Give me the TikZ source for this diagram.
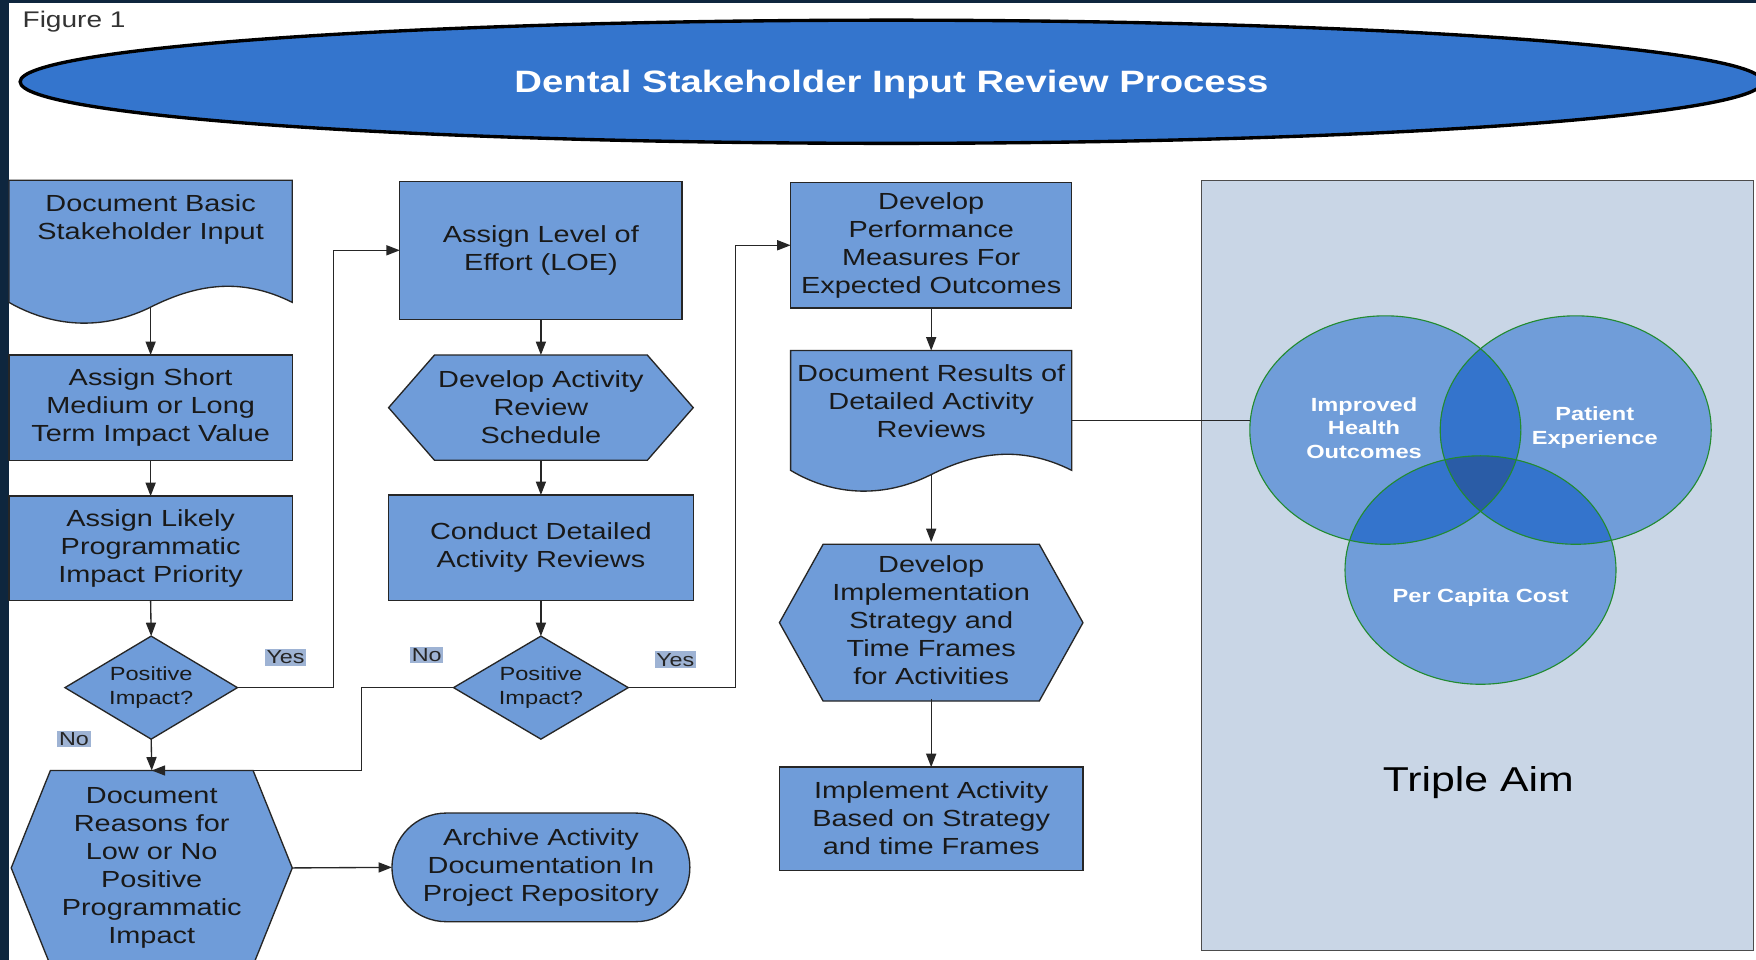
\documentclass[tikz,border=0pt]{standalone}
\usepackage{fontspec}
\setmainfont{Liberation Sans}[FakeStretch=1.24]
\usetikzlibrary{shapes.geometric,shapes.misc,arrows.meta}

\definecolor{navyback}{RGB}{14,38,62}
\definecolor{boxblue}{RGB}{111,156,217}
\definecolor{titleblue}{RGB}{52,117,205}
\definecolor{panelgray}{RGB}{201,214,230}
\definecolor{tagblue}{RGB}{158,179,212}
\definecolor{vennone}{RGB}{112,157,217}
\definecolor{venntwo}{RGB}{52,116,204}
\definecolor{vennthree}{RGB}{42,92,166}
\definecolor{venngreen}{RGB}{34,139,48}

\tikzset{
  flowline/.style={draw=black!85, line width=1.2pt},
  flowfill/.style={flowline, fill=boxblue},
  boxtext/.style={font=\fontsize{20.8}{25}\selectfont, text=black!90, align=center, inner sep=0pt, outer sep=0pt},
  procbox/.style={boxtext, flowfill, rectangle},
  shapebox/.style={boxtext, rectangle, draw=none},
  decision/.style={flowfill, diamond, aspect=1.67, inner sep=0pt, outer sep=0pt, align=center, text=black!90, font=\fontsize{17}{21}\selectfont},
  terminal/.style={boxtext, flowfill, rounded rectangle},
  answer/.style={fill=tagblue, text=black!85, inner sep=1.5pt, font=\fontsize{16.8}{20}\selectfont},
  connector/.style={flowline, -{Triangle[length=12pt,width=9pt]}},
  venntext/.style={text=white, align=center, font=\bfseries\fontsize{17}{21}\selectfont},
  vennring/.style={ellipse, draw=venngreen, line width=1pt, minimum width=242pt, minimum height=204pt, inner sep=0pt},
}

\begin{document}
\begin{tikzpicture}[x=1pt,y=1pt,yscale=-1,xscale=1]
\useasboundingbox (0,0) rectangle (1568,857);
\clip (0,0) rectangle (1568,857);

%Shape: Page background
\fill[navyback] (0,0) rectangle (1568,857);
\fill[white] (8,3) rectangle (1568,857);

% Text Node
\node[anchor=west, inner sep=0pt, text=black!80, font=\fontsize{20.2}{24}\selectfont] (figlabel) at (20,19) {Figure 1};

%Shape: Ellipse
\node[ellipse, draw=black, line width=3pt, fill=titleblue, minimum width=1556pt, minimum height=110pt, text=white, text depth=0pt, font=\bfseries\fontsize{27.6}{33}\selectfont] (title) at (796,73) {Dental Stakeholder Input Review Process};

%Shape: Document
\draw[flowfill] (8,161) -- (261,161) -- (261,270) .. controls (215,247) and (175,254) .. (135,274) .. controls (95,294) and (50,294) .. (8,270) -- cycle;
\node[shapebox, minimum width=253pt, minimum height=113pt, label={[boxtext, anchor=north, label distance=-13pt]north:{Document Basic\\Stakeholder Input}}] (basic) at (134.5,217.5) {};

\node[procbox, minimum width=253pt, minimum height=94pt] (short) at (134.5,364) {Assign Short\\Medium or Long\\Term Impact Value};
\node[procbox, minimum width=253pt, minimum height=93pt] (likely) at (134.5,489.5) {Assign Likely\\Programmatic\\Impact Priority};
\node[decision, minimum width=154pt, minimum height=92pt] (posA) at (135,614) {Positive\\Impact?};

%Shape: Hexagon
\draw[flowfill] (45,688) -- (226,688) -- (261,775) -- (226,862) -- (45,862) -- (10,775) -- cycle;
\node[shapebox, minimum width=251pt, minimum height=174pt] (reasons) at (135.5,775) {Document\\Reasons for\\Low or No\\Positive\\Programmatic\\Impact};

\node[terminal, minimum width=266pt, minimum height=97pt] (archive) at (483,774.5) {Archive Activity\\Documentation In\\Project Repository};

\node[procbox, minimum width=252pt, minimum height=123pt] (loe) at (483,223.5) {Assign Level of\\Effort (LOE)};

%Shape: Hexagon
\draw[flowfill] (388,317) -- (578,317) -- (619,364) -- (578,411) -- (388,411) -- (347,364) -- cycle;
\node[shapebox, minimum width=272pt, minimum height=94pt] (schedule) at (483,364) {Develop Activity\\Review\\Schedule};

\node[procbox, minimum width=272pt, minimum height=94pt] (conduct) at (483,489) {Conduct Detailed\\Activity Reviews};
\node[decision, minimum width=156pt, minimum height=92pt] (posB) at (483,614) {Positive\\Impact?};

\node[procbox, minimum width=251pt, minimum height=112pt] (perf) at (831.5,219) {Develop\\Performance\\Measures For\\Expected Outcomes};

%Shape: Document
\draw[flowfill] (706,313) -- (957,313) -- (957,420) .. controls (911,397) and (871,404) .. (831,424) .. controls (791,444) and (746,444) .. (706,420) -- cycle;
\node[shapebox, minimum width=251pt, minimum height=111pt, label={[boxtext, anchor=north, label distance=-13pt]north:{Document Results of\\Detailed Activity\\Reviews}}] (results) at (831.5,368.5) {};

%Shape: Hexagon
\draw[flowfill] (735,486) -- (928,486) -- (967,556) -- (928,626) -- (735,626) -- (696,556) -- cycle;
\node[shapebox, minimum width=271pt, minimum height=140pt] (strategy) at (831.5,554) {Develop\\Implementation\\Strategy and\\Time Frames\\for Activities};

\node[procbox, minimum width=271pt, minimum height=92pt] (implement) at (831.5,731) {Implement Activity\\Based on Strategy\\and time Frames};

% Text Node
\node[answer] (yesA) at (255,587) {Yes};
\node[answer] (noA) at (66,660) {No};
\node[answer] (noB) at (381,585) {No};
\node[answer] (yesB) at (603,589) {Yes};

%Straight Lines
\draw[connector] (basic.south) -- (short.north);
\draw[connector] (short.south) -- (likely.north);
\draw[connector] (likely.south) -- (posA.north);
\draw[connector] (posA.south) -- (reasons.north);
\draw[connector] (posA.east) -- ++(86,0) |- (loe.west);
\draw[connector] (reasons.east) -- (archive.west);
\draw[connector] (loe.south) -- (schedule.north);
\draw[connector] (schedule.south) -- (conduct.north);
\draw[connector] (conduct.south) -- (posB.north);
\draw[connector] (posB.west) -- ++(-82,0) |- (reasons.north);
\draw[connector] (posB.east) -- ++(96,0) |- (perf.west);
\draw[connector] (perf.south) -- (results.north);
\draw[connector] (results.south) -- (strategy.north);
\draw[connector] (strategy.south) -- (implement.north);

%Shape: Rectangle
\draw[draw=black!70, line width=1pt, fill=panelgray] (1073,161) rectangle (1566,849);

%Shape: Venn
\fill[vennone] (1237,384) ellipse [x radius=121, y radius=102];
\fill[vennone] (1407,384) ellipse [x radius=121, y radius=102];
\fill[vennone] (1322,509) ellipse [x radius=121, y radius=102];
\begin{scope}
  \clip (1237,384) ellipse [x radius=121, y radius=102];
  \fill[venntwo] (1407,384) ellipse [x radius=121, y radius=102];
  \fill[venntwo] (1322,509) ellipse [x radius=121, y radius=102];
\end{scope}
\begin{scope}
  \clip (1407,384) ellipse [x radius=121, y radius=102];
  \fill[venntwo] (1322,509) ellipse [x radius=121, y radius=102];
\end{scope}
\begin{scope}
  \clip (1237,384) ellipse [x radius=121, y radius=102];
  \clip (1407,384) ellipse [x radius=121, y radius=102];
  \fill[vennthree] (1322,509) ellipse [x radius=121, y radius=102];
\end{scope}
\node[vennring] (health) at (1237,384) {};
\node[vennring] (patient) at (1407,384) {};
\node[vennring] (cost) at (1322,509) {};

% Text Node
\node[venntext] (healthText) at (1218,382) {Improved\\Health\\Outcomes};
\node[venntext] (patientText) at (1424,382) {Patient\\Experience};
\node[venntext] (costText) at (1322,534) {Per Capita Cost};
\node[font=\fontsize{30.8}{36}\selectfont, text=black] (aim) at (1320,699) {Triple Aim};

%Straight Lines
\draw[flowline] (results.east |- health.176) -- (health.176);

\end{tikzpicture}
\end{document}
